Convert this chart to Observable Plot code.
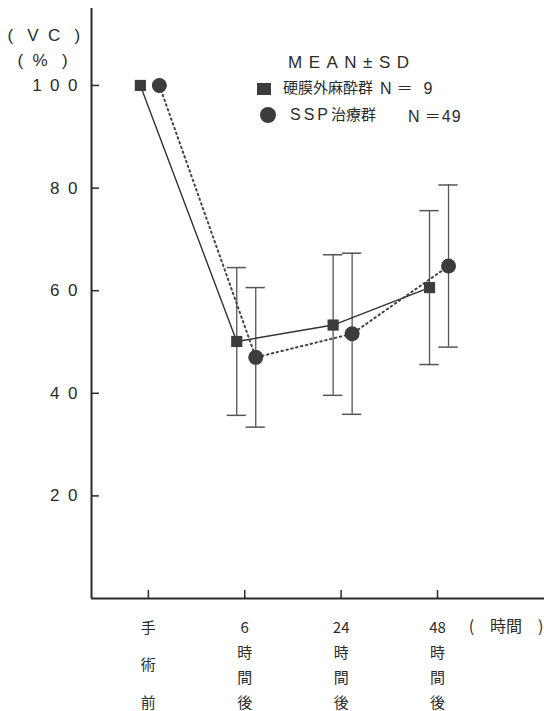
<!DOCTYPE html>
<html><head><meta charset="utf-8">
<script src="https://cdn.jsdelivr.net/npm/d3@7"></script>
<script src="https://cdn.jsdelivr.net/npm/@observablehq/plot@0.6"></script>
<style>
body{margin:0;background:#fff;}
#wrap{position:relative;width:544px;height:711px;font-family:"Noto Sans CJK JP",sans-serif;color:#2b2b2b;}
.lg{position:absolute;white-space:nowrap;line-height:1;}
</style></head><body><div id="wrap"></div>
<script>
// tick labels (x categories) and data
const categories = ["手\n術\n前", "6\n時\n間\n後", "24\n時\n間\n後", "48\n時\n間\n後"];
const epiMean = [100, 50.1, 53.3, 60.6];
const epiSD   = [null, 14.4, 13.7, 15.0];
const sspMean = [100, 47.0, 51.6, 64.8];
const sspSD   = [null, 13.6, 15.7, 15.8];
const yTicks = [20, 40, 60, 80, 100];
const seriesNames = ["硬膜外麻酔群", "ＳＳＰ治療群"];
const seriesN = [9, 49];

const xDomain = [-0.59, 4.11];
const epi = categories.map((c, i) => ({i, mean: epiMean[i], sd: epiSD[i]}));
const ssp = categories.map((c, i) => ({i, mean: sspMean[i], sd: sspSD[i]}));
const epiE = epi.filter(d => d.sd != null);
const sspE = ssp.filter(d => d.sd != null);
const xLab = categories.map((c, i) => ({i, c}));

const ink = "#2b2b2b";
const dxA = -8, dxB = 11, cap = 0.1;

const errMarks = (rows, dx) => [
  Plot.ruleX(rows, {x: "i", y1: d => d.mean - d.sd, y2: d => d.mean + d.sd, dx, stroke: "#555", strokeWidth: 1.3}),
  Plot.ruleY(rows, {y: d => d.mean + d.sd, x1: d => d.i - cap, x2: d => d.i + cap, dx, stroke: "#555", strokeWidth: 1.5}),
  Plot.ruleY(rows, {y: d => d.mean - d.sd, x1: d => d.i - cap, x2: d => d.i + cap, dx, stroke: "#555", strokeWidth: 1.5})
];

const chart = Plot.plot({
  width: 544, height: 711,
  marginLeft: 91, marginRight: 0, marginTop: 8, marginBottom: 113,
  style: {fontFamily: "'Liberation Sans', 'Noto Sans CJK JP', sans-serif", color: ink, background: "transparent"},
  x: {type: "linear", domain: xDomain, axis: null},
  y: {domain: [0, 115], axis: null},
  marks: [
    Plot.axisY({ticks: yTicks, tickSize: 8, dx: 8, fill: "none", label: null, stroke: ink, strokeWidth: 1.5}),
    Plot.axisY({ticks: yTicks, tickSize: 0, tickPadding: 14, label: null, fontSize: 17, fill: ink,
      tickFormat: d => String(d).split("").join("\u2002")}),
    Plot.axisX({ticks: [0, 1, 2, 3], tickSize: 8, dy: -8, fill: "none", label: null, stroke: ink, strokeWidth: 1.5}),
    Plot.ruleX([xDomain[0]], {stroke: ink, strokeWidth: 2}),
    Plot.ruleY([0], {stroke: ink, strokeWidth: 2}),
    ...errMarks(epiE, dxA),
    ...errMarks(sspE, dxB),
    Plot.line(epi, {x: "i", y: "mean", dx: dxA, stroke: "#333", strokeWidth: 1.4}),
    Plot.line(ssp, {x: "i", y: "mean", dx: dxB, stroke: "#444", strokeWidth: 2, strokeDasharray: "1.5,3.5"}),
    Plot.dot(epi, {x: "i", y: "mean", dx: dxA, symbol: "square", r: 6.3, fill: "#3a3d3a"}),
    Plot.dot(ssp, {x: "i", y: "mean", dx: dxB, symbol: "circle", r: 7.5, fill: "#3a3d3a"}),
    Plot.text(xLab.filter(d => d.i === 0), {x: "i", text: "c", frameAnchor: "bottom", lineAnchor: "top", dy: 7.4,
      lineHeight: 2.5, fontSize: 15, fill: ink, fontFamily: "'Noto Sans CJK JP'"}),
    Plot.text(xLab.filter(d => d.i > 0), {x: "i", text: "c", frameAnchor: "bottom", lineAnchor: "top", dy: 16.3,
      lineHeight: 1.667, fontSize: 15, fill: ink, fontFamily: "'Noto Sans CJK JP'"}),
    Plot.text(["(\u2003時間\u2003)"], {frameAnchor: "bottom-right", textAnchor: "end", lineAnchor: "middle",
      dx: -1, dy: 28, fontSize: 16, fill: ink, fontFamily: "'Noto Sans CJK JP'"}),
    Plot.text(["(\u00a0\u00a0\u00a0V\u00a0\u00a0C\u00a0\u00a0\u00a0)"], {frameAnchor: "top-left", textAnchor: "start", lineAnchor: "middle",
      dx: -84, dy: 27, fontSize: 17, fill: ink}),
    Plot.text(["(\u00a0\u00a0%\u00a0\u00a0\u00a0)"], {frameAnchor: "top-left", textAnchor: "start", lineAnchor: "middle",
      dx: -74, dy: 52, fontSize: 17, fill: ink})
  ]
});

const wrap = document.getElementById("wrap");
wrap.appendChild(chart);

function lg(html, left, top, extra = "") {
  const el = document.createElement("div");
  el.className = "lg";
  el.style.left = left + "px";
  el.style.top = top + "px";
  el.style.cssText += extra;
  el.innerHTML = html;
  wrap.appendChild(el);
}
lg("MEAN±SD", 288, 54, "font-family:'Liberation Sans';font-size:17px;letter-spacing:6.5px;");
lg(`<svg width="16" height="14"><rect x="1" y="1" width="14" height="12" fill="#3a3d3a"/></svg>`, 256, 81);
lg(`<svg width="18" height="18"><circle cx="9" cy="9" r="8" fill="#3a3d3a"/></svg>`, 259, 106);
lg(seriesNames[0], 283, 79, "font-size:15px;");
lg(`N<span style="font-family:'Noto Sans CJK JP'">\u2009＝\u2009</span>\u00a0${seriesN[0]}`, 380, 79, "font-family:'Liberation Sans';font-size:16px;letter-spacing:1px;");
lg(`<span style="font-family:'Liberation Sans';letter-spacing:3px;font-size:16px">SSP</span>${seriesNames[1].slice(3)}`, 290, 106, "font-size:15px;");
lg(`N<span style="font-family:'Noto Sans CJK JP'">\u2009＝</span>${seriesN[1]}`, 408, 107, "font-family:'Liberation Sans';font-size:16px;letter-spacing:1px;");
</script></body></html>
